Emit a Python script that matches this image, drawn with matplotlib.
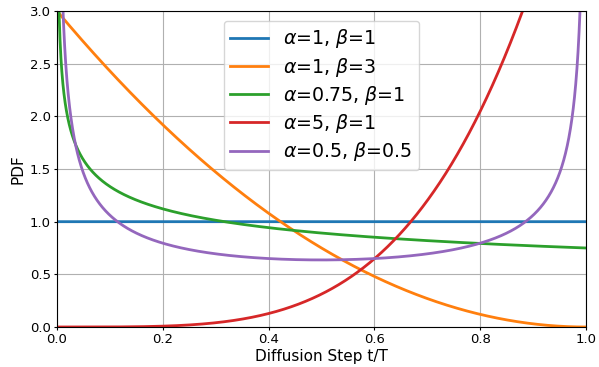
import math
import numpy as np
import matplotlib
matplotlib.use("Agg")
import matplotlib.pyplot as plt

# Beta distribution parameters shown in the legend
alphas = [1, 1, 0.75, 5, 0.5]
betas = [1, 3, 1, 1, 0.5]
labels = [r"$\alpha$=1, $\beta$=1", r"$\alpha$=1, $\beta$=3", r"$\alpha$=0.75, $\beta$=1",
          r"$\alpha$=5, $\beta$=1", r"$\alpha$=0.5, $\beta$=0.5"]
colors = ["#1f77b4", "#ff7f0e", "#2ca02c", "#d62728", "#9467bd"]

t = np.linspace(1e-4, 1 - 1e-4, 3000)

fig = plt.figure(figsize=(5.99, 3.67), dpi=100)
ax = fig.add_axes([57/599, 1 - 327/367, (586-57)/599, (327-11)/367])
for a, b, lab, c in zip(alphas, betas, labels, colors):
    B = math.gamma(a) * math.gamma(b) / math.gamma(a + b)
    pdf = t ** (a - 1) * (1 - t) ** (b - 1) / B
    ax.plot(t, pdf, color=c, lw=2, label=lab)

ax.set_xlim(0, 1)
ax.set_ylim(0, 3)
ax.tick_params(labelsize=9.5, length=2.5, pad=2)
ax.set_xlabel("Diffusion Step t/T", fontsize=11, labelpad=2)
ax.set_ylabel("PDF", fontsize=11, labelpad=3)
ax.grid(True)
ax.legend(loc="upper center", fontsize=13.7, labelspacing=0.28, borderpad=0.35,
          handlelength=2.0, borderaxespad=0.5)
fig.savefig("out.png", dpi=100)
